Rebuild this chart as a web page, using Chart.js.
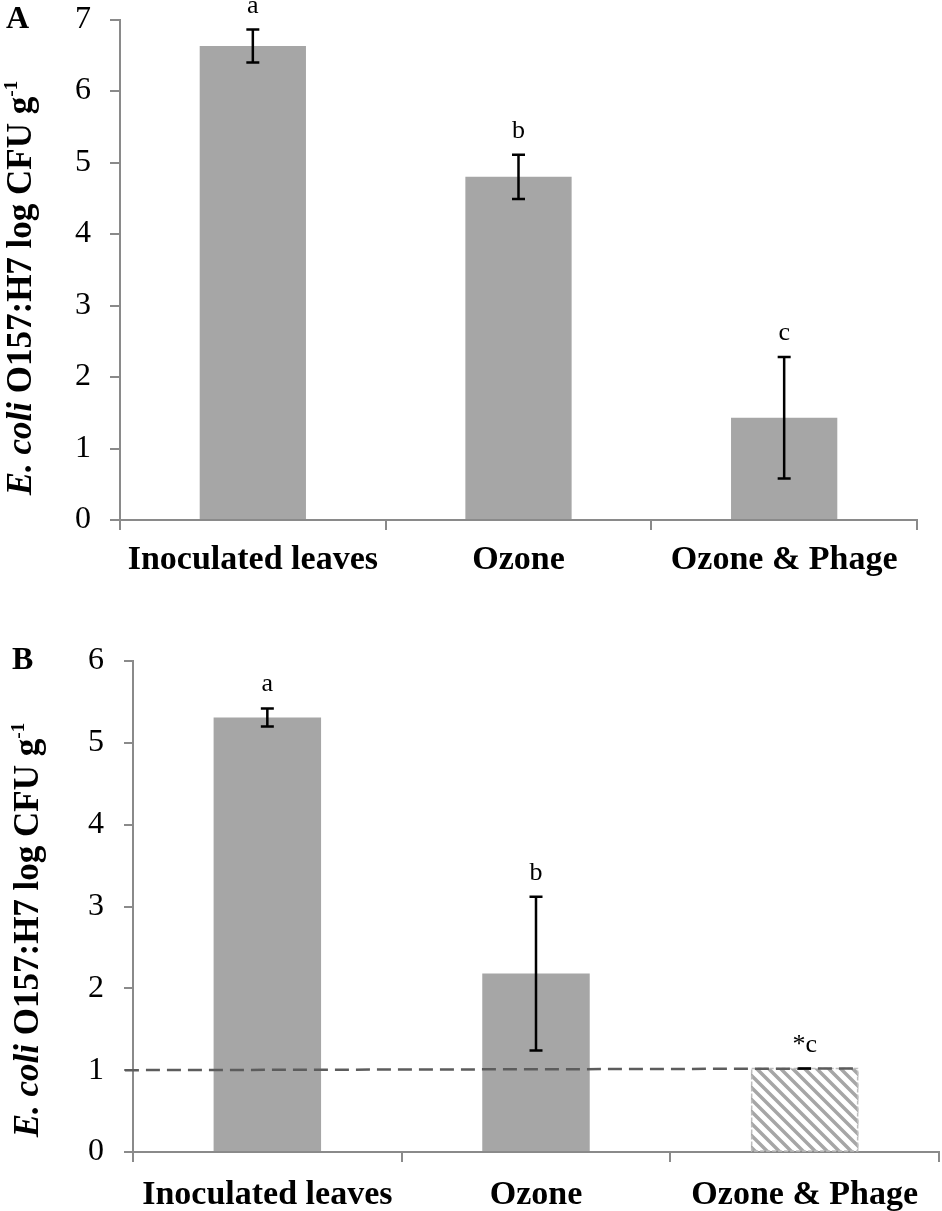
<!DOCTYPE html>
<html>
<head>
<meta charset="utf-8">
<script src="https://cdn.jsdelivr.net/npm/chart.js@4.4.0/dist/chart.umd.min.js"></script>
<style>
body { margin: 0; background: #fff; }
#wrap { position: relative; width: 942px; height: 1211px; font-family: 'Liberation Serif', 'Times New Roman', serif; }
canvas { position: absolute; left: 0; }
.panel { position: absolute; font-weight: bold; font-size: 32px; line-height: 32px; }
.ytitle { position: absolute; width: 520px; text-align: center; font-weight: bold; font-size: 35px;
  line-height: 35px; white-space: nowrap; transform: translate(-50%, -50%) rotate(-90deg); }
.ytitle sup { font-size: 55%; position: relative; top: -0.75em; vertical-align: baseline; }
</style>
</head>
<body>
<div id="wrap">
  <canvas id="chartA" width="942" height="600" style="top:0"></canvas>
  <canvas id="chartB" width="942" height="611" style="top:600px"></canvas>
  <div class="panel" style="left:6px;top:1px">A</div>
  <div class="panel" style="left:12px;top:642px">B</div>
  <div class="ytitle" style="left:22px;top:288px"><i>E. coli</i> O157:H7 log CFU g<sup>-1</sup></div>
  <div class="ytitle" style="left:29px;top:930px"><i>E. coli</i> O157:H7 log CFU g<sup>-1</sup></div>
</div>
<script>
const categories = ['Inoculated leaves', 'Ozone', 'Ozone & Phage']

// panel A
const valuesA = [6.63, 4.80, 1.43]
const errorsA = [0.23, 0.31, 0.85]
const lettersA = ['a', 'b', 'c']
const yTicksA = [0, 1, 2, 3, 4, 5, 6, 7]

// panel B
const valuesB = [5.31, 2.18, 1.02]
const errorsB = [0.11, 0.94, 0]
const lettersB = ['a', 'b', '*c']
const belowLimitB = [false, false, true]
const yTicksB = [0, 1, 2, 3, 4, 5, 6]
// detection limit line (x in category index units)
const limitX = [-0.53, 2.2]
const limitY = [1.0, 1.02]

const FONT = "'Liberation Serif', 'Times New Roman', serif"
const BAR = '#a6a6a6'
const AXIS = '#8a8a8a'

function hatchPattern() {
    const c = document.createElement('canvas')
    c.width = 12; c.height = 12
    const g = c.getContext('2d')
    g.fillStyle = '#fff'
    g.fillRect(0, 0, 12, 12)
    g.strokeStyle = BAR
    g.lineWidth = 3.5
    g.beginPath()
    g.moveTo(-6, -6); g.lineTo(18, 18)
    g.moveTo(-6, 6); g.lineTo(6, 18)
    g.moveTo(6, -6); g.lineTo(18, 6)
    g.stroke()
    return g.createPattern(c, 'repeat')
}

const barDecor = {
    id: 'barDecor',
    afterDatasetDraw(chart, args, opts) {
        if (args.index !== 0 || !opts.hatched) return
        const ctx = chart.ctx
        const meta = chart.getDatasetMeta(0)
        ctx.save()
        ctx.strokeStyle = '#bdbdbd'
        ctx.lineWidth = 1.5
        ctx.setLineDash([4, 2])
        meta.data.forEach((bar, i) => {
            if (!opts.hatched[i]) return
            const p = bar.getProps(['x', 'y', 'base', 'width'], true)
            ctx.strokeRect(p.x - p.width / 2 + 0.75, p.y, p.width - 1.5, p.base - p.y)
        })
        ctx.restore()
    },
    afterDatasetsDraw(chart, args, opts) {
        const ctx = chart.ctx
        const y = chart.scales.y
        const meta = chart.getDatasetMeta(0)
        const vals = chart.data.datasets[0].data
        ctx.save()
        ctx.strokeStyle = '#000'
        ctx.lineWidth = 2.5
        meta.data.forEach((bar, i) => {
            const x = bar.x
            const e = opts.errors[i]
            const top = y.getPixelForValue(vals[i] + e)
            const bot = y.getPixelForValue(vals[i] - e)
            ctx.beginPath()
            ctx.moveTo(x, top); ctx.lineTo(x, bot)
            ctx.moveTo(x - 6.5, top); ctx.lineTo(x + 6.5, top)
            ctx.moveTo(x - 6.5, bot); ctx.lineTo(x + 6.5, bot)
            ctx.stroke()
            ctx.fillStyle = '#000'
            ctx.font = '26px ' + FONT
            ctx.textAlign = 'center'
            ctx.textBaseline = 'alphabetic'
            ctx.fillText(opts.letters[i], x, top - 17)
        })
        ctx.restore()
    }
}

function makeOptions(cfg) {
    return {
        responsive: false,
        animation: false,
        layout: { padding: cfg.padding },
        plugins: {
            legend: { display: false },
            tooltip: { enabled: false },
            barDecor: cfg.decor
        },
        scales: {
            x: {
                grid: { offset: true, drawOnChartArea: false, color: AXIS, lineWidth: 2, tickLength: 10 },
                border: { color: AXIS, width: 2 },
                ticks: { color: '#000', font: { family: FONT, size: 34, weight: 'bold' },
                    padding: cfg.xPad, maxRotation: 0, autoSkip: false },
                afterFit: s => { s.height = cfg.xHeight; s.paddingLeft = 0; s.paddingRight = 0 }
            },
            y: {
                min: 0,
                max: cfg.yTicks[cfg.yTicks.length - 1],
                afterBuildTicks: s => { s.ticks = cfg.yTicks.map(v => ({ value: v })) },
                grid: { drawOnChartArea: false, color: AXIS, lineWidth: 2, tickLength: cfg.tickLen },
                border: { color: AXIS, width: 2 },
                ticks: { color: '#000', font: { family: FONT, size: 32 }, padding: cfg.yPad },
                afterFit: s => { s.width = cfg.yWidth; s.paddingTop = 0; s.paddingBottom = 0 }
            },
            ...(cfg.extraScales || {})
        }
    }
}

new Chart(document.getElementById('chartA'), {
    type: 'bar',
    data: {
        labels: categories,
        datasets: [{
            data: valuesA,
            backgroundColor: BAR,
            barPercentage: 0.4,
            categoryPercentage: 1.0,
            grouped: false
        }]
    },
    options: makeOptions({
        padding: { top: 19.5, right: 25, left: 0, bottom: 0 },
        yTicks: yTicksA, yWidth: 120, xHeight: 80, xPad: 10, yPad: 19, tickLen: 10,
        decor: { errors: errorsA, letters: lettersA }
    }),
    plugins: [barDecor]
})

const hatch = hatchPattern()
new Chart(document.getElementById('chartB'), {
    type: 'bar',
    data: {
        labels: categories,
        datasets: [{
            data: valuesB,
            backgroundColor: belowLimitB.map(b => b ? hatch : BAR),
            barPercentage: 0.4,
            categoryPercentage: 1.0,
            grouped: false
        }, {
            type: 'line',
            xAxisID: 'x2',
            data: limitX.map((x, i) => ({ x: x, y: limitY[i] })),
            borderColor: '#5c5c5c',
            borderWidth: 2.5,
            borderDash: [14, 7],
            pointRadius: 0,
            clip: false,
            order: -1
        }]
    },
    options: makeOptions({
        padding: { top: 61, right: 3, left: 0, bottom: 0 },
        yTicks: yTicksB, yWidth: 133, xHeight: 59, xPad: 13, yPad: 20, tickLen: 9,
        decor: { errors: errorsB, letters: lettersB, hatched: belowLimitB },
        extraScales: { x2: { type: 'linear', display: false, offset: false, grid: { offset: false }, min: -0.5, max: 2.5 } }
    }),
    plugins: [barDecor]
})
</script>
</body>
</html>
